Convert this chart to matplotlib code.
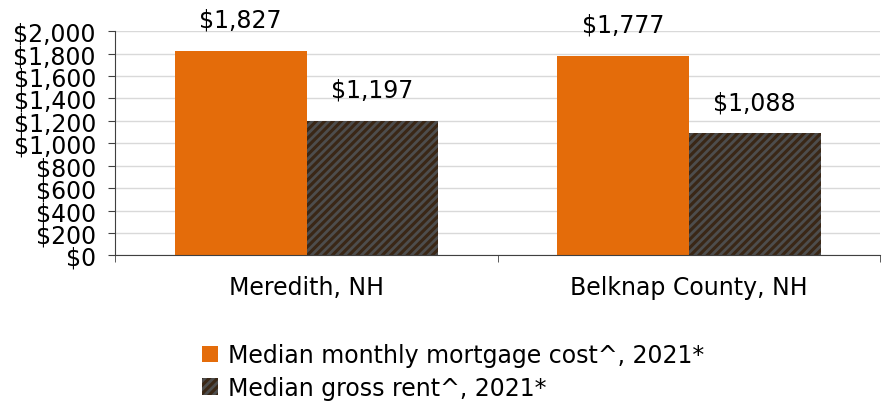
import numpy as np
import matplotlib.pyplot as plt
from matplotlib.ticker import FuncFormatter, FixedLocator

plt.rcParams['hatch.linewidth'] = 2.0

places = ["Meredith, NH", "Belknap County, NH"]
series_names = ["Median monthly mortgage cost^, 2021*", "Median gross rent^, 2021*"]
mortgage = [1827, 1777]
rent = [1197, 1088]

fig = plt.figure(figsize=(8.88, 4.02), dpi=100)
ax = fig.add_axes([0.13, 0.362, 0.861, 0.558])

x = np.arange(len(places))
w = 0.345
b1 = ax.bar(x - w / 2, mortgage, w, color='#e46c0a', label=series_names[0], zorder=2)
b2 = ax.bar(x + w / 2, rent, w, color='#3a2716', edgecolor='#4d4d4d', hatch='////',
            linewidth=0, label=series_names[1], zorder=2)

for bars, vals in ((b1, mortgage), (b2, rent)):
    for r, v in zip(bars, vals):
        ax.text(r.get_x() + r.get_width() / 2, v + 280, f"${v:,}", ha='center',
                va='center', fontsize=17)

ax.set_ylim(0, 2000)
ax.set_xlim(-0.5, 1.5)
ax.set_yticks(range(0, 2001, 200))
ax.yaxis.set_major_formatter(FuncFormatter(lambda v, p: f"${v:,.0f}"))
ax.tick_params(axis='y', labelsize=17, length=5, pad=9, color='#404040')
ax.grid(axis='y', color='#d9d9d9', linewidth=1, zorder=0)

ax.set_xticks(x)
ax.set_xticklabels(places, fontsize=17)
ax.tick_params(axis='x', length=0, pad=14)
ax.xaxis.set_minor_locator(FixedLocator([-0.5, 0.5, 1.5]))
ax.tick_params(axis='x', which='minor', length=5, color='#404040')

for s in ('top', 'right'):
    ax.spines[s].set_visible(False)
ax.spines['left'].set_color('#404040')
ax.spines['bottom'].set_color('#404040')

leg = fig.legend(handles=[b1, b2], loc='lower center', bbox_to_anchor=(0.51, -0.02),
                 ncol=1, frameon=False, fontsize=17, handlelength=0.7, handleheight=0.7,
                 handletextpad=0.4, labelspacing=0.35, borderaxespad=0)

fig.savefig('out.png', dpi=100)
